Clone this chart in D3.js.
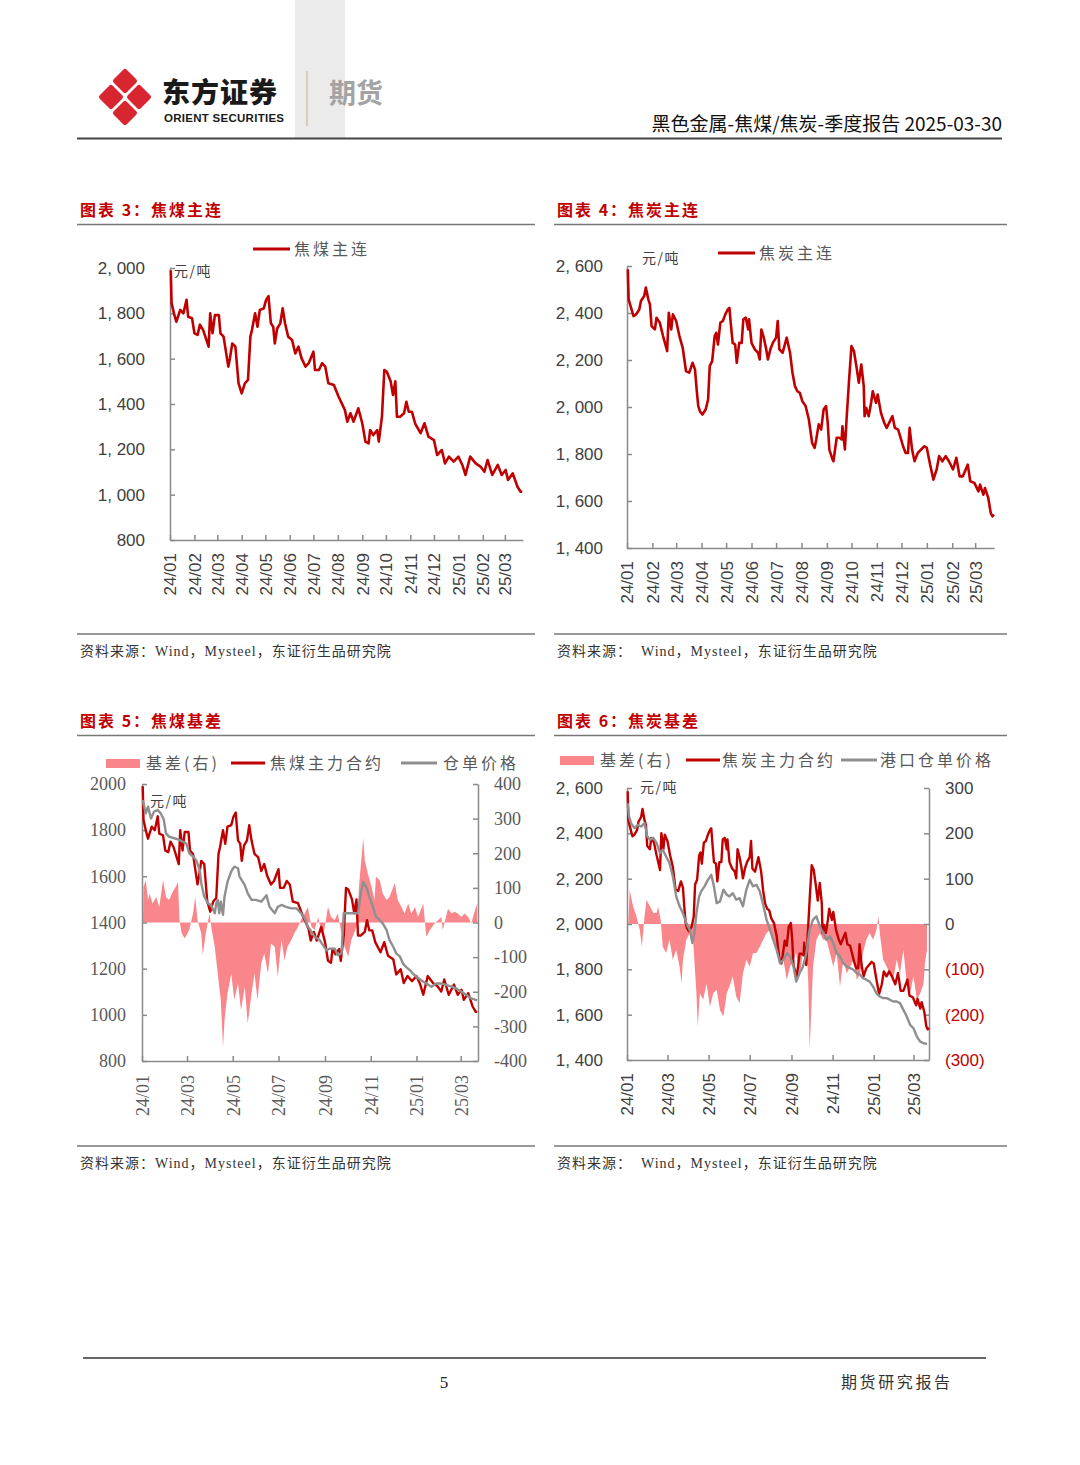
<!DOCTYPE html>
<html><head><meta charset="utf-8">
<script src="https://cdn.jsdelivr.net/npm/d3@7"></script>
<style>
body{margin:0;background:#fff;}
svg{display:block;}
</style></head><body>
<svg id="page" width="1080" height="1465"></svg>
<script>
// ---------------- DATA ----------------
const xStart = "2024-01-01", xEnd = "2025-03-24";
const monthTicksAll = ["2024-01","2024-02","2024-03","2024-04","2024-05","2024-06","2024-07","2024-08","2024-09","2024-10","2024-11","2024-12","2025-01","2025-02","2025-03"];
const monthTicksBi = ["2024-01","2024-03","2024-05","2024-07","2024-09","2024-11","2025-01","2025-03"];
const yTicksJm = [800,1000,1200,1400,1600,1800,2000];
const yTicksJt = [1400,1600,1800,2000,2200,2400,2600];
const yTicksJmBasis = [-400,-300,-200,-100,0,100,200,300,400];
const yTicksJtBasis = [-300,-200,-100,0,100,200,300];

// 焦煤主连 / 焦煤主力合约
const jmMain = [["2024-01-02",1990],["2024-01-03",1845],["2024-01-06",1800],["2024-01-09",1763],["2024-01-14",1815],["2024-01-18",1800],["2024-01-22",1860],["2024-01-24",1785],["2024-01-29",1778],["2024-02-01",1712],["2024-02-05",1705],["2024-02-08",1750],["2024-02-12",1727],["2024-02-19",1653],["2024-02-21",1800],["2024-02-24",1712],["2024-02-27",1792],["2024-03-03",1792],["2024-03-05",1712],["2024-03-09",1697],["2024-03-11",1653],["2024-03-15",1565],["2024-03-17",1600],["2024-03-20",1667],["2024-03-24",1653],["2024-03-26",1572],["2024-03-28",1491],["2024-04-01",1447],["2024-04-05",1491],["2024-04-09",1506],["2024-04-12",1697],["2024-04-14",1726],["2024-04-18",1800],["2024-04-21",1741],["2024-04-24",1815],["2024-04-29",1822],["2024-05-02",1859],["2024-05-05",1876],["2024-05-08",1756],["2024-05-11",1741],["2024-05-13",1667],["2024-05-16",1733],["2024-05-20",1756],["2024-05-23",1822],["2024-05-26",1756],["2024-05-30",1697],["2024-06-04",1682],["2024-06-08",1623],["2024-06-12",1653],["2024-06-16",1601],["2024-06-21",1565],["2024-06-25",1580],["2024-07-01",1631],["2024-07-03",1550],["2024-07-08",1550],["2024-07-12",1580],["2024-07-16",1565],["2024-07-20",1491],["2024-07-27",1484],["2024-08-02",1432],["2024-08-06",1403],["2024-08-10",1373],["2024-08-13",1322],["2024-08-17",1359],["2024-08-21",1322],["2024-08-27",1381],["2024-09-01",1315],["2024-09-05",1234],["2024-09-09",1226],["2024-09-11",1285],["2024-09-15",1263],["2024-09-20",1285],["2024-09-22",1234],["2024-09-26",1344],["2024-09-29",1550],["2024-10-02",1543],["2024-10-07",1500],["2024-10-10",1440],["2024-10-13",1500],["2024-10-15",1344],["2024-10-19",1344],["2024-10-24",1359],["2024-10-27",1410],["2024-10-30",1366],["2024-11-03",1366],["2024-11-07",1315],["2024-11-14",1271],["2024-11-19",1315],["2024-11-24",1256],["2024-12-01",1241],["2024-12-05",1175],["2024-12-11",1197],["2024-12-15",1138],["2024-12-20",1168],["2024-12-26",1146],["2025-01-01",1168],["2025-01-06",1131],["2025-01-10",1087],["2025-01-16",1168],["2025-01-23",1138],["2025-01-29",1124],["2025-02-03",1101],["2025-02-07",1153],["2025-02-13",1087],["2025-02-20",1131],["2025-02-25",1087],["2025-03-02",1109],["2025-03-05",1065],["2025-03-11",1094],["2025-03-17",1035],["2025-03-21",1013],["2025-03-23",1013]];

// 焦炭主连 / 焦炭主力合约
const jtMain = [["2024-01-02",2586],["2024-01-03",2458],["2024-01-06",2422],["2024-01-09",2387],["2024-01-12",2394],["2024-01-16",2415],["2024-01-18",2451],["2024-01-22",2472],["2024-01-24",2508],["2024-01-27",2458],["2024-01-29",2437],["2024-01-31",2344],["2024-02-04",2330],["2024-02-06",2380],["2024-02-10",2359],["2024-02-14",2302],["2024-02-18",2252],["2024-02-19",2238],["2024-02-21",2401],["2024-02-24",2330],["2024-02-26",2394],["2024-03-01",2366],["2024-03-05",2302],["2024-03-09",2252],["2024-03-13",2153],["2024-03-17",2146],["2024-03-21",2188],["2024-03-24",2160],["2024-03-26",2075],["2024-03-28",2004],["2024-03-30",1982],["2024-04-02",1968],["2024-04-06",1989],["2024-04-09",2032],["2024-04-11",2174],["2024-04-14",2195],["2024-04-17",2302],["2024-04-19",2316],["2024-04-21",2266],["2024-04-24",2359],["2024-04-27",2366],["2024-04-30",2394],["2024-05-03",2415],["2024-05-05",2422],["2024-05-07",2344],["2024-05-09",2273],["2024-05-12",2266],["2024-05-14",2188],["2024-05-17",2273],["2024-05-20",2273],["2024-05-22",2373],["2024-05-25",2380],["2024-05-28",2330],["2024-05-29",2373],["2024-06-01",2273],["2024-06-05",2245],["2024-06-09",2231],["2024-06-11",2202],["2024-06-13",2330],["2024-06-16",2295],["2024-06-19",2245],["2024-06-21",2202],["2024-06-24",2245],["2024-06-27",2273],["2024-07-01",2295],["2024-07-03",2366],["2024-07-05",2245],["2024-07-09",2231],["2024-07-14",2295],["2024-07-18",2231],["2024-07-21",2146],["2024-07-24",2089],["2024-07-27",2067],["2024-07-30",2060],["2024-08-02",2025],["2024-08-06",2004],["2024-08-10",1947],["2024-08-14",1847],["2024-08-17",1826],["2024-08-19",1862],["2024-08-22",1926],["2024-08-25",1904],["2024-08-28",1989],["2024-08-31",2004],["2024-09-02",1933],["2024-09-04",1819],["2024-09-08",1776],["2024-09-09",1769],["2024-09-13",1869],["2024-09-16",1869],["2024-09-19",1862],["2024-09-20",1918],["2024-09-23",1819],["2024-09-25",1947],["2024-09-28",2110],["2024-10-01",2259],["2024-10-04",2238],["2024-10-07",2174],["2024-10-10",2103],["2024-10-13",2181],["2024-10-16",2089],["2024-10-17",1961],["2024-10-19",1996],["2024-10-22",1961],["2024-10-25",2018],["2024-10-27",2067],["2024-10-31",2018],["2024-11-02",2053],["2024-11-06",1975],["2024-11-10",1933],["2024-11-13",1911],["2024-11-17",1940],["2024-11-20",1961],["2024-11-23",1911],["2024-11-27",1904],["2024-11-30",1869],["2024-12-03",1833],["2024-12-06",1805],["2024-12-09",1805],["2024-12-11",1911],["2024-12-14",1819],["2024-12-17",1769],["2024-12-21",1805],["2024-12-25",1819],["2024-12-29",1833],["2025-01-01",1826],["2025-01-05",1755],["2025-01-09",1691],["2025-01-13",1734],["2025-01-16",1791],["2025-01-20",1769],["2025-01-24",1791],["2025-01-28",1769],["2025-02-02",1734],["2025-02-06",1784],["2025-02-10",1705],["2025-02-14",1705],["2025-02-20",1755],["2025-02-23",1684],["2025-02-28",1677],["2025-03-05",1641],["2025-03-07",1670],["2025-03-11",1627],["2025-03-13",1655],["2025-03-17",1613],["2025-03-20",1549],["2025-03-22",1535],["2025-03-24",1542]];

// 焦煤 仓单价格
const jmWarrant = [["2024-01-02",1931],["2024-01-03",1916],["2024-01-06",1873],["2024-01-09",1902],["2024-01-13",1851],["2024-01-17",1880],["2024-01-22",1887],["2024-01-26",1873],["2024-01-30",1846],["2024-02-02",1786],["2024-02-06",1772],["2024-02-13",1765],["2024-02-20",1758],["2024-02-24",1750],["2024-02-29",1743],["2024-03-04",1700],["2024-03-09",1686],["2024-03-13",1671],["2024-03-18",1628],["2024-03-20",1570],["2024-03-24",1512],["2024-03-29",1483],["2024-04-02",1476],["2024-04-07",1440],["2024-04-09",1483],["2024-04-11",1498],["2024-04-13",1440],["2024-04-15",1491],["2024-04-18",1433],["2024-04-20",1512],["2024-04-24",1577],["2024-04-29",1621],["2024-05-03",1642],["2024-05-08",1635],["2024-05-10",1600],["2024-05-17",1562],["2024-05-21",1526],["2024-05-26",1498],["2024-06-01",1498],["2024-06-08",1490],["2024-06-15",1518],["2024-06-19",1468],["2024-06-26",1440],["2024-06-30",1468],["2024-07-05",1476],["2024-07-11",1468],["2024-07-18",1461],["2024-07-25",1461],["2024-07-31",1440],["2024-08-05",1418],["2024-08-09",1382],["2024-08-14",1360],["2024-08-18",1338],["2024-08-25",1324],["2024-08-29",1303],["2024-09-03",1280],["2024-09-07",1287],["2024-09-14",1287],["2024-09-18",1258],["2024-09-23",1266],["2024-09-26",1440],["2024-10-06",1440],["2024-10-15",1440],["2024-10-19",1532],["2024-10-22",1576],["2024-10-26",1554],["2024-10-30",1512],["2024-11-04",1468],["2024-11-08",1425],["2024-11-13",1411],["2024-11-17",1396],["2024-11-22",1368],["2024-11-26",1324],["2024-12-01",1295],["2024-12-05",1266],["2024-12-10",1252],["2024-12-14",1222],["2024-12-18",1208],["2024-12-23",1194],["2024-12-27",1179],["2025-01-01",1165],["2025-01-07",1150],["2025-01-14",1136],["2025-01-21",1122],["2025-01-27",1136],["2025-02-03",1136],["2025-02-10",1129],["2025-02-17",1122],["2025-02-23",1114],["2025-03-02",1100],["2025-03-09",1085],["2025-03-15",1071],["2025-03-23",1063]];

// 焦煤 基差(右)
const jmBasis = [["2024-01-02",-51],["2024-01-03",103],["2024-01-06",122],["2024-01-09",65],["2024-01-11",84],["2024-01-15",55],["2024-01-20",74],["2024-01-24",45],["2024-01-29",122],["2024-02-02",74],["2024-02-06",65],["2024-02-11",89],["2024-02-15",103],["2024-02-18",117],["2024-02-20",7],["2024-02-23",-32],["2024-02-27",-46],["2024-03-04",-22],["2024-03-09",26],["2024-03-12",74],["2024-03-15",7],["2024-03-20",-32],["2024-03-22",-94],["2024-03-26",-32],["2024-03-31",26],["2024-04-03",-22],["2024-04-07",-70],["2024-04-11",-147],["2024-04-15",-224],["2024-04-18",-359],["2024-04-20",-282],["2024-04-24",-205],["2024-04-29",-147],["2024-05-03",-224],["2024-05-08",-176],["2024-05-12",-253],["2024-05-17",-186],["2024-05-21",-292],["2024-05-26",-205],["2024-05-30",-147],["2024-06-03",-224],["2024-06-08",-118],["2024-06-12",-90],["2024-06-17",-147],["2024-06-21",-61],["2024-06-26",-70],["2024-06-30",-157],["2024-07-05",-51],["2024-07-09",-109],["2024-07-13",-70],["2024-07-18",-51],["2024-07-22",-32],["2024-07-27",-12],["2024-07-31",7],["2024-08-05",26],["2024-08-09",45],["2024-08-14",-12],["2024-08-18",-22],["2024-08-23",16],["2024-08-27",-32],["2024-08-31",-22],["2024-09-05",45],["2024-09-09",16],["2024-09-14",7],["2024-09-18",26],["2024-09-23",-32],["2024-09-27",-70],["2024-10-02",-99],["2024-10-06",-51],["2024-10-13",-12],["2024-10-17",122],["2024-10-22",243],["2024-10-24",180],["2024-10-28",142],["2024-11-02",103],["2024-11-06",65],["2024-11-08",132],["2024-11-13",122],["2024-11-17",84],["2024-11-22",65],["2024-11-26",74],["2024-12-03",113],["2024-12-07",65],["2024-12-12",45],["2024-12-16",26],["2024-12-21",55],["2024-12-25",26],["2024-12-30",45],["2025-01-03",16],["2025-01-10",55],["2025-01-12",7],["2025-01-14",-41],["2025-01-19",-22],["2025-01-25",-3],["2025-01-30",7],["2025-02-03",16],["2025-02-05",-22],["2025-02-12",40],["2025-02-17",26],["2025-02-21",31],["2025-02-25",26],["2025-03-02",16],["2025-03-06",26],["2025-03-11",16],["2025-03-15",-3],["2025-03-20",36],["2025-03-23",55]];

// 焦炭 港口仓单价格
const jtWarrant = [["2024-01-02",2533],["2024-01-04",2475],["2024-01-07",2445],["2024-01-12",2423],["2024-01-17",2437],["2024-01-22",2430],["2024-01-27",2445],["2024-01-31",2387],["2024-02-04",2372],["2024-02-09",2380],["2024-02-14",2357],["2024-02-19",2313],["2024-02-23",2328],["2024-02-28",2298],["2024-03-04",2269],["2024-03-09",2210],["2024-03-14",2122],["2024-03-19",2078],["2024-03-24",2048],["2024-03-29",2004],["2024-04-03",1975],["2024-04-07",1916],["2024-04-10",1960],["2024-04-13",2048],["2024-04-17",2122],["2024-04-20",2144],["2024-04-25",2166],["2024-04-30",2195],["2024-05-05",2217],["2024-05-09",2166],["2024-05-13",2092],["2024-05-18",2100],["2024-05-23",2151],["2024-05-28",2129],["2024-06-01",2122],["2024-06-06",2136],["2024-06-11",2107],["2024-06-16",2114],["2024-06-21",2078],["2024-06-26",2151],["2024-07-01",2195],["2024-07-06",2166],["2024-07-11",2173],["2024-07-16",2144],["2024-07-21",2085],["2024-07-26",2019],["2024-07-31",1975],["2024-08-05",1930],["2024-08-10",1886],["2024-08-15",1827],["2024-08-20",1842],["2024-08-25",1871],["2024-08-30",1857],["2024-09-04",1812],["2024-09-08",1746],["2024-09-13",1783],["2024-09-18",1812],["2024-09-23",1871],["2024-09-28",1975],["2024-10-03",2019],["2024-10-08",2034],["2024-10-13",1989],["2024-10-18",1960],["2024-10-23",1930],["2024-10-28",1945],["2024-11-02",1916],["2024-11-07",1871],["2024-11-12",1857],["2024-11-17",1827],["2024-11-22",1812],["2024-11-27",1805],["2024-12-02",1798],["2024-12-07",1783],["2024-12-12",1776],["2024-12-16",1761],["2024-12-21",1754],["2024-12-26",1746],["2024-12-31",1724],["2025-01-05",1695],["2025-01-10",1680],["2025-01-15",1673],["2025-01-20",1673],["2025-01-25",1666],["2025-01-30",1658],["2025-02-04",1658],["2025-02-09",1651],["2025-02-14",1621],["2025-02-19",1592],["2025-02-24",1555],["2025-03-01",1540],["2025-03-06",1503],["2025-03-11",1481],["2025-03-16",1474],["2025-03-21",1471]];

// 焦炭 基差(右)
const jtBasis = [["2024-01-02",-35],["2024-01-05",75],["2024-01-10",39],["2024-01-15",17],["2024-01-20",-13],["2024-01-23",-50],["2024-01-27",17],["2024-01-30",53],["2024-02-04",39],["2024-02-09",24],["2024-02-14",24],["2024-02-16",39],["2024-02-20",9],["2024-02-23",-50],["2024-02-28",-64],["2024-03-04",-35],["2024-03-09",-79],["2024-03-14",-57],["2024-03-19",-94],["2024-03-22",-131],["2024-03-24",-79],["2024-03-29",-35],["2024-04-03",-20],["2024-04-08",-35],["2024-04-13",-153],["2024-04-15",-226],["2024-04-18",-153],["2024-04-23",-167],["2024-04-28",-131],["2024-05-03",-182],["2024-05-08",-153],["2024-05-13",-145],["2024-05-18",-190],["2024-05-23",-204],["2024-05-28",-153],["2024-06-01",-138],["2024-06-06",-116],["2024-06-11",-160],["2024-06-16",-175],["2024-06-21",-109],["2024-06-26",-79],["2024-07-01",-94],["2024-07-06",-64],["2024-07-11",-64],["2024-07-16",-50],["2024-07-21",-35],["2024-07-26",-20],["2024-07-31",-13],["2024-08-05",-28],["2024-08-10",-64],["2024-08-15",-79],["2024-08-20",-79],["2024-08-25",-123],["2024-08-30",-94],["2024-09-04",-79],["2024-09-08",-64],["2024-09-13",-116],["2024-09-18",-64],["2024-09-23",-35],["2024-09-26",-131],["2024-09-28",-278],["2024-10-01",-167],["2024-10-03",-94],["2024-10-08",-35],["2024-10-13",-20],["2024-10-18",-35],["2024-10-23",-35],["2024-10-28",-64],["2024-11-02",-94],["2024-11-07",-64],["2024-11-12",-138],["2024-11-17",-79],["2024-11-22",-109],["2024-11-27",-94],["2024-12-02",-79],["2024-12-07",-123],["2024-12-12",-109],["2024-12-16",-64],["2024-12-21",-35],["2024-12-26",-20],["2024-12-31",-35],["2025-01-05",-13],["2025-01-08",17],["2025-01-10",-20],["2025-01-15",-79],["2025-01-20",-94],["2025-01-25",-109],["2025-01-30",-123],["2025-02-04",-79],["2025-02-09",-109],["2025-02-14",-57],["2025-02-19",-131],["2025-02-24",-153],["2025-03-01",-116],["2025-03-06",-167],["2025-03-11",-153],["2025-03-16",-131],["2025-03-18",-86],["2025-03-21",-57]];

// ---------------- RENDER ----------------
const svg = d3.select("#page");
const parse = d3.timeParse("%Y-%m-%d");
const parseMonth = d3.timeParse("%Y-%m");
const RED = "#c00000", GRAY = "#8f8f8f", PINK = "#f9868a", AXIS = "#8a8a8a";
const CJK = "'Noto Sans CJK SC','Noto Sans',sans-serif";
const SANS = "'Liberation Sans','Noto Sans CJK SC',sans-serif";
const SERIF = "'Liberation Serif','Noto Sans CJK SC',serif";
const fmtComma = v => d3.format(",")(v).replace(",", ", ");

// Header
svg.append("rect").attr("x",295).attr("y",0).attr("width",50).attr("height",138).attr("fill","#ebebeb");
const logo = svg.append("g").attr("fill","#d7262f").attr("stroke","#d7262f").attr("stroke-width",5).attr("stroke-linejoin","round");
[[125,81],[111,97],[139,97],[125,113]].forEach(([cx,cy])=>{
  const r=9.5;
  logo.append("path").attr("d",`M${cx},${cy-r}L${cx+r},${cy}L${cx},${cy+r}L${cx-r},${cy}Z`);
});
svg.append("text").attr("x",162).attr("y",103).attr("font-family",CJK).attr("font-weight",900).attr("font-size",28).attr("letter-spacing","1px").attr("fill","#1a1a1a").text("东方证券");
svg.append("text").attr("x",164).attr("y",122).attr("font-family",SANS).attr("font-weight",700).attr("font-size",11.5).attr("textLength",120).attr("fill","#1a1a1a").text("ORIENT SECURITIES");
svg.append("line").attr("x1",307).attr("x2",307).attr("y1",71).attr("y2",126).attr("stroke","#c9b995").attr("stroke-width",1.2);
svg.append("text").attr("x",329).attr("y",103).attr("font-family",CJK).attr("font-weight",700).attr("font-size",27).attr("fill","#a3a3a3").text("期货");
svg.append("text").attr("x",1002).attr("y",131).attr("text-anchor","end").attr("font-family",CJK).attr("font-size",19).attr("fill","#111").text("黑色金属-焦煤/焦炭-季度报告 2025-03-30");
svg.append("line").attr("x1",77).attr("x2",1002).attr("y1",138.5).attr("y2",138.5).attr("stroke","#444").attr("stroke-width",2);

// Footer
svg.append("line").attr("x1",83).attr("x2",986).attr("y1",1358).attr("y2",1358).attr("stroke","#333").attr("stroke-width",1.5);
svg.append("text").attr("x",444).attr("y",1388).attr("text-anchor","middle").attr("font-family",SERIF).attr("font-size",17).attr("fill","#222").text("5");
svg.append("text").attr("x",841).attr("y",1388).attr("font-family",CJK).attr("font-size",16).attr("letter-spacing","2.6px").attr("fill","#333").text("期货研究报告");

function frame(x0, x1, tx, titleY, title, srcY, src){
  svg.append("text").attr("x",tx).attr("y",titleY).attr("font-family",CJK).attr("font-weight",700).attr("font-size",16).attr("letter-spacing","2px").attr("fill",RED).text(title);
  svg.append("line").attr("x1",x0).attr("x2",x1).attr("y1",titleY+8.5).attr("y2",titleY+8.5).attr("stroke","#777").attr("stroke-width",1.5);
  svg.append("line").attr("x1",x0).attr("x2",x1).attr("y1",srcY).attr("y2",srcY).attr("stroke","#777").attr("stroke-width",1.5);
  svg.append("text").attr("x",tx).attr("y",srcY+22).attr("font-family",SERIF).attr("font-size",14).attr("letter-spacing","1px").style("white-space","pre").attr("fill","#333").text(src);
}
function styleAxis(g, font, size, color){
  g.attr("font-family",font).attr("font-size",size);
  g.select(".domain").attr("stroke",AXIS).attr("stroke-width",1.5);
  g.selectAll(".tick line").attr("stroke",AXIS).attr("stroke-width",1.5);
  g.selectAll(".tick text").attr("fill",color);
}
function rotateLabels(g, off){
  g.selectAll(".tick text").attr("transform","rotate(-90)").attr("x",-off).attr("y",0).attr("dy","0.35em").attr("text-anchor","end");
}
function timeX(r0,r1){ return d3.scaleTime().domain([parse(xStart),parse(xEnd)]).range([r0,r1]); }
function legendText(x,y,t){
  svg.append("text").attr("x",x).attr("y",y).attr("font-family",CJK).attr("font-size",16).attr("letter-spacing","3px").attr("fill","#595959").text(t);
}
function unitText(x,y){
  svg.append("text").attr("x",x).attr("y",y).attr("font-family",CJK).attr("font-size",14).attr("letter-spacing","1.5px").attr("fill","#404040").text("元/吨");
}
function drawLine(data, x, y, color, w){
  svg.append("path").datum(data).attr("fill","none").attr("stroke",color).attr("stroke-width",w).attr("stroke-linejoin","round")
    .attr("d",d3.line().x(d=>x(parse(d[0]))).y(d=>y(d[1])));
}

// ---- Chart 3 ----
frame(77,535,80,216,"图表 3：焦煤主连",634,"资料来源：Wind，Mysteel，东证衍生品研究院");
{
  const x = timeX(170,523), y = d3.scaleLinear().domain([800,2000]).range([540,268]);
  const gx = svg.append("g").attr("transform","translate(0,540)")
    .call(d3.axisBottom(x).tickValues(monthTicksAll.map(parseMonth)).tickFormat(d3.timeFormat("%y/%m")).tickSizeInner(-5).tickSizeOuter(0));
  styleAxis(gx,SANS,17,"#404040"); rotateLabels(gx,13);
  const gy = svg.append("g").attr("transform","translate(170,0)")
    .call(d3.axisLeft(y).tickValues(yTicksJm).tickFormat(fmtComma).tickSizeInner(-5).tickSizeOuter(0).tickPadding(25));
  styleAxis(gy,SANS,17,"#404040");
  drawLine(jmMain, x, y, RED, 2.6);
  svg.append("line").attr("x1",253).attr("x2",290).attr("y1",249).attr("y2",249).attr("stroke",RED).attr("stroke-width",3);
  legendText(294,255,"焦煤主连");
  unitText(174,276);
}

// ---- Chart 4 ----
frame(554,1007,557,216,"图表 4：焦炭主连",634,"资料来源：  Wind，Mysteel，东证衍生品研究院");
{
  const x = timeX(627,994), y = d3.scaleLinear().domain([1400,2600]).range([548,266]);
  const gx = svg.append("g").attr("transform","translate(0,548)")
    .call(d3.axisBottom(x).tickValues(monthTicksAll.map(parseMonth)).tickFormat(d3.timeFormat("%y/%m")).tickSizeInner(-5).tickSizeOuter(0));
  styleAxis(gx,SANS,17,"#404040"); rotateLabels(gx,13);
  const gy = svg.append("g").attr("transform","translate(627,0)")
    .call(d3.axisLeft(y).tickValues(yTicksJt).tickFormat(fmtComma).tickSizeInner(-5).tickSizeOuter(0).tickPadding(24));
  styleAxis(gy,SANS,17,"#404040");
  drawLine(jtMain, x, y, RED, 2.6);
  svg.append("line").attr("x1",718).attr("x2",755).attr("y1",253).attr("y2",253).attr("stroke",RED).attr("stroke-width",3);
  legendText(759,259,"焦炭主连");
  unitText(642,263);
}

// ---- Chart 5 ----
frame(77,535,80,727,"图表 5：焦煤基差",1146,"资料来源：Wind，Mysteel，东证衍生品研究院");
{
  const x = timeX(142,478), y = d3.scaleLinear().domain([800,2000]).range([1061,784]);
  const yR = d3.scaleLinear().domain([-400,400]).range([1061,784]);
  svg.append("path").datum(jmBasis).attr("fill",PINK)
    .attr("d",d3.area().x(d=>x(parse(d[0]))).y0(yR(0)).y1(d=>yR(d[1])));
  const gx = svg.append("g").attr("transform","translate(0,1061)")
    .call(d3.axisBottom(x).tickValues(monthTicksBi.map(parseMonth)).tickFormat(d3.timeFormat("%y/%m")).tickSizeInner(-5).tickSizeOuter(0));
  styleAxis(gx,SERIF,18,"#595959"); rotateLabels(gx,14);
  const gy = svg.append("g").attr("transform","translate(142,0)")
    .call(d3.axisLeft(y).tickValues(yTicksJm).tickFormat(v=>String(v)).tickSizeInner(-5).tickSizeOuter(0).tickPadding(16));
  styleAxis(gy,SERIF,18,"#595959");
  const gr = svg.append("g").attr("transform","translate(478,0)")
    .call(d3.axisRight(yR).tickValues(yTicksJmBasis).tickFormat(v=>String(v)).tickSizeInner(-5).tickSizeOuter(0).tickPadding(16));
  styleAxis(gr,SERIF,18,"#595959");
  drawLine(jmMain, x, y, RED, 2.4);
  drawLine(jmWarrant, x, y, GRAY, 2.4);
  svg.append("rect").attr("x",106).attr("y",759).attr("width",34).attr("height",9).attr("fill",PINK);
  legendText(146,769,"基差(右)");
  svg.append("line").attr("x1",231).attr("x2",265).attr("y1",763).attr("y2",763).attr("stroke",RED).attr("stroke-width",3);
  legendText(270,769,"焦煤主力合约");
  svg.append("line").attr("x1",401).attr("x2",437).attr("y1",763).attr("y2",763).attr("stroke",GRAY).attr("stroke-width",3);
  legendText(443,769,"仓单价格");
  unitText(150,806);
}

// ---- Chart 6 ----
frame(554,1007,557,727,"图表 6：焦炭基差",1146,"资料来源：  Wind，Mysteel，东证衍生品研究院");
{
  const x = timeX(627,929), y = d3.scaleLinear().domain([1400,2600]).range([1060,788]);
  const yR = d3.scaleLinear().domain([-300,300]).range([1060,788]);
  svg.append("path").datum(jtBasis).attr("fill",PINK)
    .attr("d",d3.area().x(d=>x(parse(d[0]))).y0(yR(0)).y1(d=>yR(d[1])));
  const gx = svg.append("g").attr("transform","translate(0,1060)")
    .call(d3.axisBottom(x).tickValues(monthTicksBi.map(parseMonth)).tickFormat(d3.timeFormat("%y/%m")).tickSizeInner(-5).tickSizeOuter(0));
  styleAxis(gx,SANS,17,"#404040"); rotateLabels(gx,13);
  const gy = svg.append("g").attr("transform","translate(627,0)")
    .call(d3.axisLeft(y).tickValues(yTicksJt).tickFormat(fmtComma).tickSizeInner(-5).tickSizeOuter(0).tickPadding(24));
  styleAxis(gy,SANS,17,"#404040");
  const gr = svg.append("g").attr("transform","translate(929,0)")
    .call(d3.axisRight(yR).tickValues(yTicksJtBasis).tickFormat(v => v<0 ? "("+(-v)+")" : String(v)).tickSizeInner(-5).tickSizeOuter(0).tickPadding(16));
  styleAxis(gr,SANS,17,"#404040");
  gr.selectAll(".tick text").attr("fill", v => v<0 ? RED : "#404040");
  drawLine(jtMain, x, y, RED, 2.4);
  drawLine(jtWarrant, x, y, GRAY, 2.4);
  svg.append("rect").attr("x",560).attr("y",756).attr("width",34).attr("height",9).attr("fill",PINK);
  legendText(600,766,"基差(右)");
  svg.append("line").attr("x1",686).attr("x2",720).attr("y1",760).attr("y2",760).attr("stroke",RED).attr("stroke-width",3);
  legendText(722,766,"焦炭主力合约");
  svg.append("line").attr("x1",841).attr("x2",877).attr("y1",760).attr("y2",760).attr("stroke",GRAY).attr("stroke-width",3);
  legendText(880,766,"港口仓单价格");
  unitText(640,792);
}
</script>
</body></html>
